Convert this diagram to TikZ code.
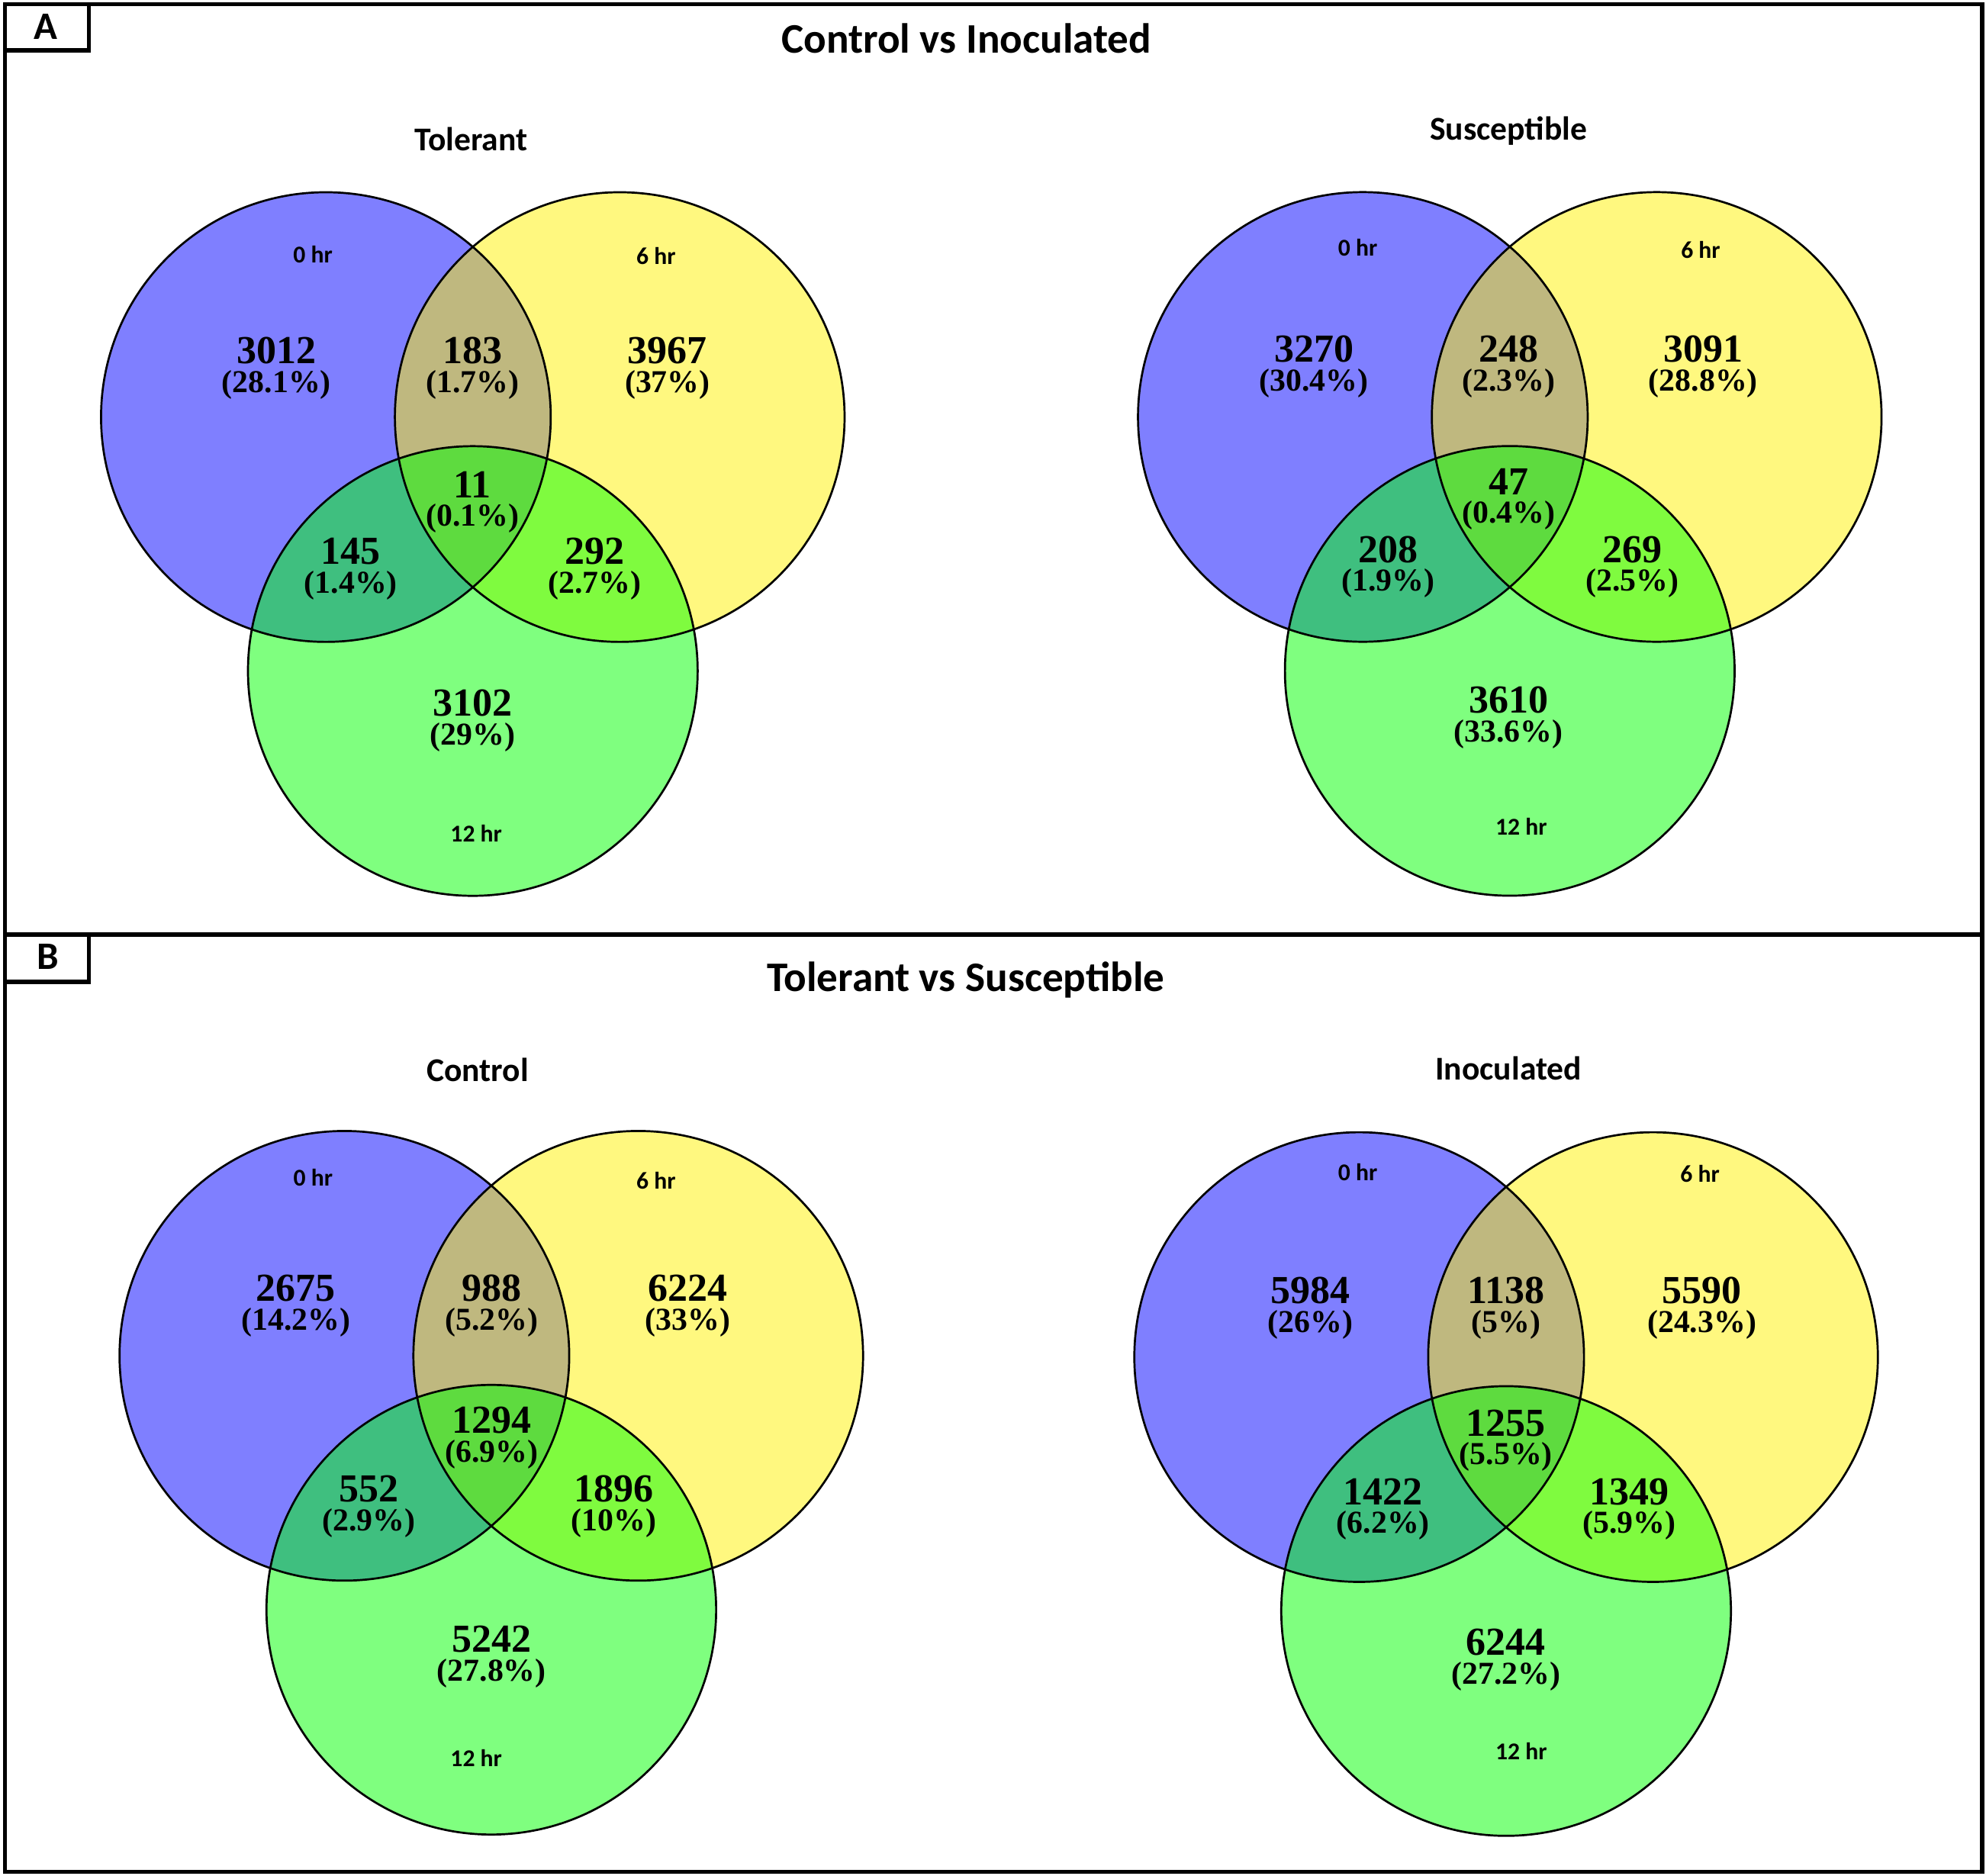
\documentclass[tikz,border=0pt]{standalone}
\usepackage{fontspec}
\setmainfont{Liberation Serif}
\newfontfamily\calibri{Carlito}

\begin{document}
\begin{tikzpicture}[x=0.16601mm,y=-0.16601mm,label distance=2.2pt,
  venn/.style={fill opacity=0.5},
  ring/.style={draw=black,line width=0.77pt},
  frame/.style={draw=black,line width=1.6pt},
  num/.style={font=\fontsize{14.8}{16}\selectfont\bfseries,inner sep=0pt,anchor=base},
  pct/.style={font=\fontsize{11.9}{13}\selectfont\bfseries,inner sep=0pt,text height=8pt},
  hr/.style={font=\calibri\bfseries\fontsize{9}{10}\selectfont,inner sep=0pt},
  sub/.style={font=\calibri\bfseries\fontsize{12.4}{14}\selectfont,inner sep=0pt,anchor=base},
  head/.style={font=\calibri\bfseries\fontsize{15.7}{18}\selectfont,inner sep=0pt,anchor=base},
  tag/.style={font=\calibri\bfseries\fontsize{14.5}{16}\selectfont,inner sep=0pt}]

  \useasboundingbox (0,0) rectangle (1568,1481);

  % panel frames
  \draw[frame] (3.9,3.3) rectangle (1565,738);
  \draw[frame] (3.9,738) rectangle (1565,1478);
  \draw[frame] (3.9,3.3) rectangle (70.2,39.8);
  \draw[frame] (3.9,738) rectangle (70.2,775.3);
  \node[tag] (tagA) at (36,21) {A};
  \node[tag] (tagB) at (38,755.4) {B};
  \node[head] (headA) at (763,41.9) {Control vs Inoculated};
  \node[head] (headB) at (762.5,782.5) {Tolerant vs Susceptible};

  % circles: fills first, then outlines
  \foreach \cx/\cy in {373.3/329.3,1192/329.2,387.9/1070.5,1189.1/1071.5}{
    \fill[blue,venn] (\cx-116,\cy) circle[radius=29.47mm];
    \fill[yellow,venn] (\cx+116,\cy) circle[radius=29.47mm];
    \fill[green,venn] (\cx,\cy+200.5) circle[radius=29.47mm];
  }
  \foreach \cx/\cy in {373.3/329.3,1192/329.2,387.9/1070.5,1189.1/1071.5}{
    \draw[ring] (\cx-116,\cy) circle[radius=29.47mm];
    \draw[ring] (\cx+116,\cy) circle[radius=29.47mm];
    \draw[ring] (\cx,\cy+200.5) circle[radius=29.47mm];
  }

  % Tolerant
  \node[sub] (tol) at (372,119) {Tolerant};
  \node[hr] (tol-0) at (247,201) {0 hr};
  \node[hr] (tol-6) at (518,202) {6 hr};
  \node[hr] (tol-12) at (376,658) {12 hr};
  \node[num,label={[pct]below:(28.1\%)}] (tol-a) at (218.3,287.3) {3012};
  \node[num,label={[pct]below:(1.7\%)}] (tol-ab) at (373.1,287.3) {183};
  \node[num,label={[pct]below:(37\%)}] (tol-b) at (527,287.3) {3967};
  \node[num,label={[pct]below:(0.1\%)}] (tol-abc) at (373.1,393) {11};
  \node[num,label={[pct]below:(1.4\%)}] (tol-ac) at (277,445.4) {145};
  \node[num,label={[pct]below:(2.7\%)}] (tol-bc) at (469.5,445.4) {292};
  \node[num,label={[pct]below:(29\%)}] (tol-c) at (373.1,565.5) {3102};

  % Susceptible
  \node[sub] (sus) at (1191,110.5) {Susceptible};
  \node[hr] (sus-0) at (1072,195.3) {0 hr};
  \node[hr] (sus-6) at (1342.7,197.2) {6 hr};
  \node[hr] (sus-12) at (1201,652.6) {12 hr};
  \node[num,label={[pct]below:(30.4\%)}] (sus-a) at (1037.4,285.8) {3270};
  \node[num,label={[pct]below:(2.3\%)}] (sus-ab) at (1191,285.8) {248};
  \node[num,label={[pct]below:(28.8\%)}] (sus-b) at (1344.7,285.8) {3091};
  \node[num,label={[pct]below:(0.4\%)}] (sus-abc) at (1191,390.6) {47};
  \node[num,label={[pct]below:(1.9\%)}] (sus-ac) at (1096,444) {208};
  \node[num,label={[pct]below:(2.5\%)}] (sus-bc) at (1288.7,444) {269};
  \node[num,label={[pct]below:(33.6\%)}] (sus-c) at (1191,563.1) {3610};

  % Control
  \node[sub] (con) at (377,854) {Control};
  \node[hr] (con-0) at (247.2,930) {0 hr};
  \node[hr] (con-6) at (518,932) {6 hr};
  \node[hr] (con-12) at (376,1388) {12 hr};
  \node[num,label={[pct]below:(14.2\%)}] (con-a) at (233.7,1027.6) {2675};
  \node[num,label={[pct]below:(5.2\%)}] (con-ab) at (388.1,1027.6) {988};
  \node[num,label={[pct]below:(33\%)}] (con-b) at (543,1027.6) {6224};
  \node[num,label={[pct]below:(6.9\%)}] (con-abc) at (388.1,1131.4) {1294};
  \node[num,label={[pct]below:(2.9\%)}] (con-ac) at (291.2,1186) {552};
  \node[num,label={[pct]below:(10\%)}] (con-bc) at (484.5,1186) {1896};
  \node[num,label={[pct]below:(27.8\%)}] (con-c) at (388.1,1304.7) {5242};

  % Inoculated
  \node[sub] (ino) at (1191,852.5) {Inoculated};
  \node[hr] (ino-0) at (1072,925.3) {0 hr};
  \node[hr] (ino-6) at (1342.2,926.8) {6 hr};
  \node[hr] (ino-12) at (1201,1382.8) {12 hr};
  \node[num,label={[pct]below:(26\%)}] (ino-a) at (1034.4,1029.1) {5984};
  \node[num,label={[pct]below:(5\%)}] (ino-ab) at (1189,1029.1) {1138};
  \node[num,label={[pct]below:(24.3\%)}] (ino-b) at (1343.7,1029.1) {5590};
  \node[num,label={[pct]below:(5.5\%)}] (ino-abc) at (1189,1133.8) {1255};
  \node[num,label={[pct]below:(6.2\%)}] (ino-ac) at (1092,1188) {1422};
  \node[num,label={[pct]below:(5.9\%)}] (ino-bc) at (1286.2,1188) {1349};
  \node[num,label={[pct]below:(27.2\%)}] (ino-c) at (1189,1307) {6244};
\end{tikzpicture}
\end{document}
